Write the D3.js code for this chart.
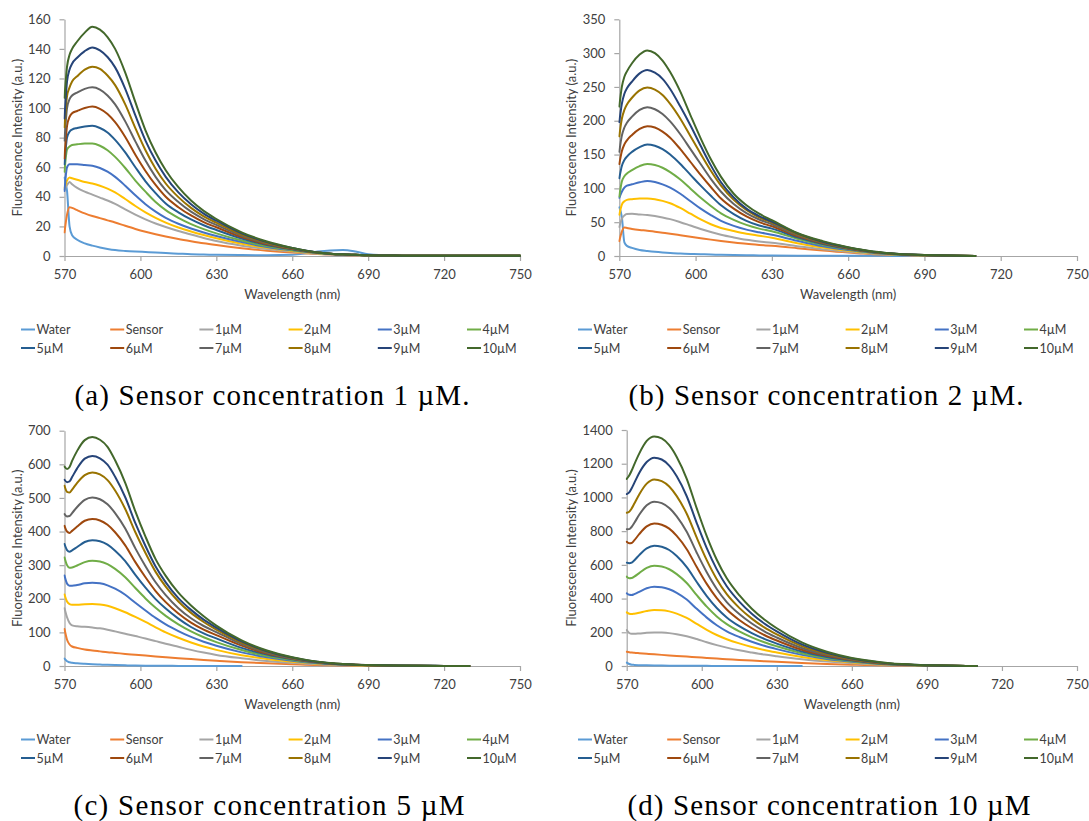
<!DOCTYPE html>
<html>
<head>
<meta charset="utf-8">
<script src="https://cdn.jsdelivr.net/npm/d3@7"></script>
<style>
  body { margin: 0; background: #ffffff; }
  svg { display: block; }
</style>
</head>
<body>
<svg id="fig" width="1089" height="821"></svg>
<script>
// ---- data -------------------------------------------------------------
// Emission wavelengths (nm) shared by every spectrum
const wavelengths = [570, 571, 572, 573, 575, 578, 581, 584, 587, 590, 594, 598, 602, 606, 610, 615, 620, 625, 630, 640, 650, 660, 665, 670, 675, 680, 685, 690, 700, 710, 720, 730, 740, 750];

const seriesNames = ["Water", "Sensor", "1µM", "2µM", "3µM", "4µM", "5µM", "6µM", "7µM", "8µM", "9µM", "10µM"];

const xTickValues = [570, 600, 630, 660, 690, 720, 750];
const yTicksA = [0, 20, 40, 60, 80, 100, 120, 140, 160];
const yTicksB = [0, 50, 100, 150, 200, 250, 300, 350];
const yTicksC = [0, 100, 200, 300, 400, 500, 600, 700];
const yTicksD = [0, 200, 400, 600, 800, 1000, 1200, 1400];

const captionTexts = [
  "(a) Sensor concentration 1 µM.",
  "(b) Sensor concentration 2 µM.",
  "(c) Sensor concentration 5 µM",
  "(d) Sensor concentration 10 µM"
];

// Fluorescence intensity (a.u.), one row per series in seriesNames order.
// null = no reading at that wavelength.
const intensityA = [
  [53, 44, 20, 14, 11, 8.5, 7, 5.8, 4.8, 4, 3.4, 3, 2.7, 2.4, 2, 1.6, 1.2, 1, 0.8, 0.6, 0.5, 0.8, 1.6, 3, 3.8, 4, 3, 1.2, 0.3, 0.1, 0, null, null, null],
  [16, 28, 33, 32.5, 31, 28.8, 27, 25.6, 24.1, 22.6, 20.4, 18.3, 16.4, 14.7, 13.2, 11.5, 10, 8.6, 7.4, 5.3, 3.6, 2.3, 1.8, 1.4, 1, 0.7, 0.5, 0.3, 0.2, 0.1, 0.1, 0.1, 0.1, 0.1],
  [45, 48, 50, 48.5, 46, 43.5, 41.5, 39.5, 37.5, 35.2, 31.5, 28, 24.8, 22, 19.6, 16.9, 14.5, 12.2, 10.1, 7, 4.7, 3, 2.2, 1.6, 1.1, 0.8, 0.6, 0.4, 0.2, 0.1, 0.1, 0.1, 0.1, 0.1],
  [46, 51, 53, 52.5, 51.5, 50, 49, 47.5, 45.5, 43, 38.5, 33.8, 29.5, 25.8, 22.6, 19.3, 16.6, 14.2, 12, 8.3, 5.5, 3.4, 2.5, 1.8, 1.3, 0.9, 0.7, 0.5, 0.3, 0.2, 0.2, 0.2, 0.2, 0.2],
  [44, 60, 62, 62, 62, 61.5, 61, 59.5, 57, 53.5, 47.5, 41, 35, 30, 25.8, 21.8, 18.6, 15.9, 13.5, 9.4, 6.1, 3.8, 2.8, 2, 1.4, 1, 0.7, 0.5, 0.3, 0.1, 0.1, 0.1, 0.1, 0.1],
  [57, 72, 74, 75, 75.5, 76, 76, 74.5, 71.5, 67, 59.5, 51, 43.5, 36.5, 31, 25.8, 21.6, 18.2, 15.3, 10.5, 6.7, 4.1, 3, 2.1, 1.5, 1.1, 0.8, 0.5, 0.3, 0.1, 0.1, 0.1, 0.1, 0.1],
  [62, 80, 84, 85.5, 86.5, 87.5, 88, 86.5, 83.5, 78.5, 70, 60, 50.5, 42.5, 35.5, 29.5, 24.7, 20.8, 17.6, 11.8, 7.4, 4.5, 3.2, 2.2, 1.6, 1.1, 0.8, 0.5, 0.3, 0.1, 0.1, 0.1, 0.1, 0.1],
  [66, 88, 94, 96.5, 98, 100, 101, 99.5, 96, 90.5, 80.5, 68.5, 57.5, 48, 40, 33, 27.4, 22.9, 19.4, 12.8, 8, 4.8, 3.4, 2.3, 1.6, 1.1, 0.8, 0.5, 0.3, 0.1, 0.1, 0.1, 0.1, 0.1],
  [78, 100, 106, 108.5, 110.5, 113, 114, 112.5, 108.5, 102.5, 91, 77.5, 64.5, 53.5, 44.5, 36.5, 30, 25, 21, 13.7, 8.5, 5, 3.5, 2.4, 1.6, 1.1, 0.8, 0.5, 0.3, 0.1, 0.1, 0.1, 0.1, 0.1],
  [87, 108, 114, 118, 121.5, 126, 128, 126.5, 122, 115.5, 102.5, 86.5, 71.5, 59, 49, 39.8, 32.5, 26.8, 22.5, 14.5, 9, 5.2, 3.6, 2.4, 1.6, 1.1, 0.8, 0.5, 0.3, 0.1, 0.1, 0.1, 0.1, 0.1],
  [93, 118, 126, 130, 134, 138.5, 141, 139, 134.5, 127.5, 113, 95, 78, 64.5, 53.5, 43, 35, 28.7, 23.9, 15.3, 9.4, 5.4, 3.7, 2.4, 1.6, 1.1, 0.8, 0.5, 0.3, 0.1, 0.1, 0.1, 0.1, 0.1],
  [107, 128, 136, 140, 145, 151, 155, 153, 148, 140, 124, 104, 85, 70, 58, 46.5, 37.5, 30.5, 25, 16, 9.8, 5.5, 3.8, 2.4, 1.6, 1.1, 0.8, 0.5, 0.3, 0.2, 0.1, 0.1, 0.1, 0.1]
];

const intensityB = [
  [72, 58, 20, 15, 12, 9, 7.5, 6.2, 5.2, 4.4, 3.7, 3.1, 2.6, 2.2, 1.8, 1.4, 1.1, 0.9, 0.7, 0.5, 0.4, 0.3, 0.2, 0.2, 0.2, 0.1, 0.1, 0.1, 0.1, 0, null, null, null, null],
  [22, 36, 42, 41.5, 40, 38.5, 37.5, 36, 34.5, 33, 30.8, 28.6, 26.4, 24.2, 22.2, 20, 18, 16.4, 15, 11.6, 8, 5, 3.8, 2.7, 1.9, 1.3, 0.9, 0.7, 0.3, 0, null, null, null, null],
  [43, 55, 60, 62, 62.5, 61.5, 60.5, 59, 57, 54.5, 50, 45, 40, 35.5, 31.5, 27.5, 24, 21.5, 19.5, 14.5, 9.8, 6.1, 4.6, 3.2, 2.2, 1.5, 1.1, 0.8, 0.3, 0, null, null, null, null],
  [61, 76, 81, 83, 84, 85, 85, 84, 81.5, 78, 71, 62.5, 54, 47, 41.5, 37, 33, 30, 27, 19, 12.5, 7.6, 5.7, 4, 2.8, 1.9, 1.3, 0.9, 0.4, 0, null, null, null, null],
  [86, 95, 101, 104, 106, 109, 111, 109.5, 106, 101, 92, 81, 70, 60.5, 52, 44.5, 39, 35, 31.5, 22.5, 14.5, 8.8, 6.6, 4.6, 3.2, 2.1, 1.5, 1, 0.4, 0, null, null, null, null],
  [88, 110, 118, 122, 127, 133, 136, 134.5, 130.5, 124, 113, 99.5, 86, 74, 63, 53.5, 46, 40.5, 36.5, 25.5, 16.5, 9.8, 7.3, 5.1, 3.5, 2.3, 1.6, 1.1, 0.4, 0, null, null, null, null],
  [115, 133, 142, 147, 154, 161, 165, 163, 158, 150, 136, 120, 104, 89, 75, 62, 52, 45, 40.5, 27.5, 17.8, 10.6, 7.9, 5.4, 3.7, 2.5, 1.7, 1.1, 0.5, 0, null, null, null, null],
  [136, 155, 165, 171, 179, 188, 192, 190, 184, 175, 158, 139, 120, 102, 85, 70, 58.5, 50, 44, 29.5, 18.8, 11.2, 8.3, 5.7, 3.9, 2.6, 1.8, 1.2, 0.5, 0, null, null, null, null],
  [154, 178, 190, 197, 206, 216, 220, 217, 210, 199, 180, 158, 136, 114, 95, 77, 63.5, 54, 47, 31, 19.5, 11.7, 8.6, 5.8, 4.1, 2.7, 1.9, 1.3, 0.5, 0, null, null, null, null],
  [177, 203, 216, 224, 234, 245, 249, 246, 238, 225, 203, 177, 151, 126, 104, 83, 68, 57, 49.5, 32.5, 20.3, 12.2, 8.9, 6, 4.2, 2.8, 2, 1.4, 0.6, 0, null, null, null, null],
  [198, 225, 240, 248, 258, 270, 275, 271, 262, 247, 221, 193, 163, 134, 109, 86.5, 70, 59, 51, 33.5, 21, 12.6, 9.1, 6.2, 4.3, 2.9, 2.1, 1.4, 0.6, 0, null, null, null, null],
  [221, 250, 265, 273, 285, 298, 304, 300, 289, 272, 243, 208, 174, 143, 117, 92, 75, 62.5, 53, 34, 22, 13, 9.5, 6.5, 4.5, 3, 2.2, 1.5, 0.6, 0, null, null, null, null]
];

const intensityC = [
  [22, 14, 11, 9.5, 8, 6.5, 5.3, 4.3, 3.5, 2.8, 2, 1.4, 1, 0.7, 0.5, 0.3, 0.2, 0.1, 0.1, 0, null, null, null, null, null, null, null, null, null, null, null, null, null, null],
  [110, 78, 64, 58, 54, 49, 46, 43.5, 41, 39, 36, 33.5, 31, 28.5, 26, 23, 20.5, 18, 15.8, 11.5, 8, 5, 3.8, 2.8, 2, 1.4, 1, 0.7, 0.3, 0.1, 0.1, 0, null, null],
  [172, 145, 128, 121, 118, 116.5, 114.5, 112, 108, 103, 96, 89, 82, 74, 66, 57, 48, 40, 33, 23, 15, 9.3, 7, 5, 3.5, 2.5, 1.7, 1.2, 0.5, 0.2, 0.1, 0, null, null],
  [213, 192, 184, 182, 182, 184, 184.5, 183, 179, 172, 160, 146, 131, 115, 100, 84, 70, 58, 48, 32, 21, 13, 9.8, 7, 4.9, 3.4, 2.3, 1.6, 0.7, 0.3, 0.2, 0, null, null],
  [269, 245, 239, 239, 241, 246, 248, 246, 240, 230, 212, 188, 165, 143, 124, 104, 86.5, 72, 60, 40.5, 26, 15.5, 11.5, 8.2, 5.7, 3.9, 2.7, 1.9, 0.8, 0.4, 0.2, 0, null, null],
  [323, 300, 292, 293, 299, 309, 313, 311, 303, 289, 264, 232, 201, 173, 149, 124, 103, 85.5, 71, 47.5, 30, 18, 13, 9.3, 6.4, 4.4, 3, 2.1, 0.9, 0.4, 0.2, 0, null, null],
  [363, 345, 340, 344, 354, 369, 374, 371, 361, 343, 312, 271, 233, 199, 171, 141, 116, 97, 82, 54, 34, 20, 14.5, 10.3, 7, 4.8, 3.3, 2.3, 1, 0.5, 0.3, 0, null, null],
  [417, 400, 396, 402, 415, 432, 437, 433, 420, 398, 359, 309, 264, 223, 190, 156, 129, 108, 92, 60.5, 37, 21.5, 15.5, 11, 7.5, 5.1, 3.5, 2.4, 1.1, 0.5, 0.3, 0, null, null],
  [452, 445, 446, 455, 473, 494, 501, 496, 481, 455, 409, 350, 297, 249, 211, 172, 142, 119, 101, 65, 39.5, 22.5, 16.5, 11.5, 7.8, 5.3, 3.6, 2.5, 1.1, 0.5, 0.3, 0, null, null],
  [536, 518, 516, 525, 545, 568, 576, 570, 553, 522, 467, 398, 336, 280, 236, 192, 158, 131, 108, 70, 42, 24, 17.5, 12, 8.2, 5.6, 3.8, 2.6, 1.2, 0.6, 0.3, 0, null, null],
  [554, 547, 549, 562, 588, 617, 625, 618, 599, 563, 502, 425, 357, 296, 249, 202, 167, 138, 114, 73, 44, 25, 18, 12.5, 8.5, 5.8, 3.9, 2.7, 1.2, 0.6, 0.3, 0, null, null],
  [593, 586, 592, 610, 640, 672, 681, 673, 652, 612, 545, 460, 385, 318, 268, 218, 180, 148, 120, 76, 46, 26, 19, 13, 9, 6, 4, 2.8, 1.3, 0.6, 0.3, 0.1, null, null]
];

const intensityD = [
  [20, 12, 8, 6.5, 5, 4, 3.2, 2.6, 2.1, 1.7, 1.3, 1, 0.8, 0.6, 0.5, 0.4, 0.3, 0.2, 0.1, 0, null, null, null, null, null, null, null, null, null, null, null, null, null, null],
  [85, 82, 80, 78.5, 76, 72.5, 69, 66, 63, 60, 56, 52, 48, 44, 40.5, 36, 32, 28, 24.5, 18, 12.5, 8, 6.2, 4.7, 3.5, 2.5, 1.7, 1.2, 0.5, 0, null, null, null, null],
  [213, 196, 191, 191, 193, 197, 199, 198, 195, 189, 177, 160, 141, 124, 109, 93, 80, 68, 58, 40, 26.5, 16.5, 12.5, 9.2, 6.4, 4.4, 3, 2, 0.8, 0, null, null, null, null],
  [318, 310, 308, 310, 316, 326, 332, 331, 324, 311, 285, 250, 215, 184, 159, 134, 113, 95, 80, 54, 35, 21.5, 16, 11.8, 8.2, 5.6, 3.8, 2.5, 1, 0, null, null, null, null],
  [431, 422, 421, 426, 440, 461, 470, 467, 455, 434, 394, 339, 287, 242, 206, 172, 144, 120, 100, 66, 42, 25.5, 19, 13.8, 9.5, 6.5, 4.4, 2.9, 1.2, 0, null, null, null, null],
  [530, 521, 522, 530, 551, 582, 595, 590, 574, 545, 492, 420, 352, 294, 248, 205, 170, 141, 117, 76, 48, 29, 21.5, 15.5, 10.5, 7.2, 4.9, 3.2, 1.3, 0, null, null, null, null],
  [613, 610, 613, 626, 658, 698, 714, 707, 688, 652, 586, 498, 415, 344, 288, 236, 195, 161, 133, 86, 54, 32, 23.5, 17, 11.5, 7.8, 5.3, 3.5, 1.4, 0, null, null, null, null],
  [737, 728, 730, 745, 782, 828, 846, 838, 815, 772, 693, 587, 487, 402, 335, 273, 224, 184, 151, 96, 60, 35, 26, 18.5, 12.5, 8.5, 5.7, 3.8, 1.5, 0, null, null, null, null],
  [811, 812, 826, 848, 897, 953, 975, 966, 938, 888, 796, 672, 556, 457, 379, 308, 252, 206, 169, 107, 66, 38, 28, 20, 13.5, 9.2, 6.1, 4, 1.6, 0, null, null, null, null],
  [909, 915, 935, 962, 1018, 1082, 1107, 1097, 1065, 1008, 903, 761, 628, 515, 426, 345, 281, 229, 187, 118, 72, 41, 30, 21.5, 14.5, 9.8, 6.5, 4.3, 1.7, 0, null, null, null, null],
  [1020, 1030, 1055, 1085, 1145, 1210, 1236, 1225, 1189, 1125, 1007, 848, 699, 573, 473, 382, 310, 252, 205, 128, 78, 44, 32, 23, 15.5, 10.5, 7, 4.6, 1.8, 0, null, null, null, null],
  [1110, 1130, 1160, 1195, 1260, 1335, 1362, 1350, 1310, 1240, 1110, 935, 770, 630, 520, 420, 340, 276, 224, 140, 85, 48, 35, 25, 17, 11.5, 7.5, 5, 2, 0, null, null, null, null]
];

// ---- style ------------------------------------------------------------
const seriesColors = ["#5B9BD5", "#ED7D31", "#A5A5A5", "#FFC000", "#4472C4", "#70AD47",
                      "#255E91", "#9E480E", "#636363", "#997300", "#264478", "#43682B"];
const uiFont = "Lato, 'Liberation Sans', Arial, sans-serif";
const axisColor = "#A6A6A6";
const textColor = "#404040";

// plot boxes, legend anchors and caption positions for the four panels
const layout = [
  { left: 64.5, right: 520, top: 19.3, bottom: 256, yTitleX: 17, legendX: 21, legendY: 329.5, capX: 272, capY: 405, capW: 395 },
  { left: 619.3, right: 1077, top: 19.3, bottom: 256, yTitleX: 571, legendX: 578, legendY: 329.5, capX: 826, capY: 405, capW: 395 },
  { left: 64.5, right: 520, top: 430.7, bottom: 666, yTitleX: 17, legendX: 21, legendY: 739.5, capX: 269, capY: 815, capW: 391 },
  { left: 626.7, right: 1077, top: 430, bottom: 666, yTitleX: 571, legendX: 578, legendY: 739.5, capX: 829, capY: 815, capW: 403 }
];

const panelData = [intensityA, intensityB, intensityC, intensityD];
const panelTicks = [yTicksA, yTicksB, yTicksC, yTicksD];

const svg = d3.select("#fig");

panelData.forEach((rows, p) => {
  const L = layout[p];
  const yTicks = panelTicks[p];
  const g = svg.append("g");

  const x = d3.scaleLinear().domain([570, 750]).range([L.left, L.right]);
  const y = d3.scaleLinear().domain([0, d3.max(yTicks)]).range([L.bottom, L.top]);

  // axes
  const xAxis = g.append("g")
    .attr("transform", `translate(0,${L.bottom})`)
    .call(d3.axisBottom(x).tickValues(xTickValues).tickFormat(d3.format("d"))
      .tickSize(5).tickSizeOuter(0).tickPadding(9));
  const yAxis = g.append("g")
    .attr("transform", `translate(${L.left},0)`)
    .call(d3.axisLeft(y).tickValues(yTicks).tickFormat(d3.format("d"))
      .tickSize(5).tickSizeOuter(0).tickPadding(9));

  [xAxis, yAxis].forEach(a => {
    a.select(".domain").attr("stroke", axisColor).attr("stroke-width", 1.2);
    a.selectAll(".tick line").attr("stroke", axisColor).attr("stroke-width", 1.2);
    a.selectAll(".tick text")
      .attr("fill", textColor)
      .style("font-family", uiFont)
      .style("font-size", "13px");
  });

  // spectra, clipped to the plot area
  const clipId = "clip" + p;
  svg.append("clipPath").attr("id", clipId)
    .append("rect")
    .attr("x", L.left - 1).attr("y", L.top - 2)
    .attr("width", L.right - L.left + 2).attr("height", L.bottom - L.top + 3);

  const line = d3.line()
    .defined(d => d[1] !== null)
    .x(d => x(d[0]))
    .y(d => y(d[1]))
    .curve(d3.curveMonotoneX);

  g.append("g").attr("clip-path", `url(#${clipId})`)
    .selectAll("path")
    .data(rows)
    .join("path")
    .attr("d", r => line(r.map((v, i) => [wavelengths[i], v])))
    .attr("fill", "none")
    .attr("stroke", (r, i) => seriesColors[i])
    .attr("stroke-width", 2)
    .attr("stroke-linejoin", "round")
    .attr("stroke-linecap", "round");

  // axis titles
  g.append("text")
    .attr("x", (L.left + L.right) / 2)
    .attr("y", L.bottom + 43)
    .attr("text-anchor", "middle")
    .attr("fill", textColor)
    .style("font-family", uiFont)
    .style("font-size", "13px")
    .text("Wavelength (nm)");

  g.append("text")
    .attr("transform", `translate(${L.yTitleX},${(L.top + L.bottom) / 2}) rotate(-90)`)
    .attr("text-anchor", "middle")
    .attr("dominant-baseline", "central")
    .attr("fill", textColor)
    .style("font-family", uiFont)
    .style("font-size", "13px")
    .text("Fluorescence Intensity (a.u.)");

  // legend: 6 columns x 2 rows
  const colStep = 89.2, rowStep = 18.5;
  const leg = g.append("g");
  seriesNames.forEach((name, i) => {
    const cx = L.legendX + (i % 6) * colStep;
    const cy = L.legendY + Math.floor(i / 6) * rowStep;
    leg.append("line")
      .attr("x1", cx).attr("x2", cx + 14)
      .attr("y1", cy).attr("y2", cy)
      .attr("stroke", seriesColors[i])
      .attr("stroke-width", 2);
    leg.append("text")
      .attr("x", cx + 15.5)
      .attr("y", cy)
      .attr("dominant-baseline", "central")
      .attr("fill", textColor)
      .style("font-family", uiFont)
      .style("font-size", "12.5px")
      .text(name);
  });

  // sub-figure caption
  svg.append("text")
    .attr("x", L.capX)
    .attr("y", L.capY)
    .attr("text-anchor", "middle")
    .attr("fill", "#000")
    .attr("textLength", L.capW)
    .attr("lengthAdjust", "spacing")
    .style("font-family", "'Liberation Serif', 'DejaVu Serif', serif")
    .style("font-size", "29px")
    .text(captionTexts[p]);
});
</script>
</body>
</html>
